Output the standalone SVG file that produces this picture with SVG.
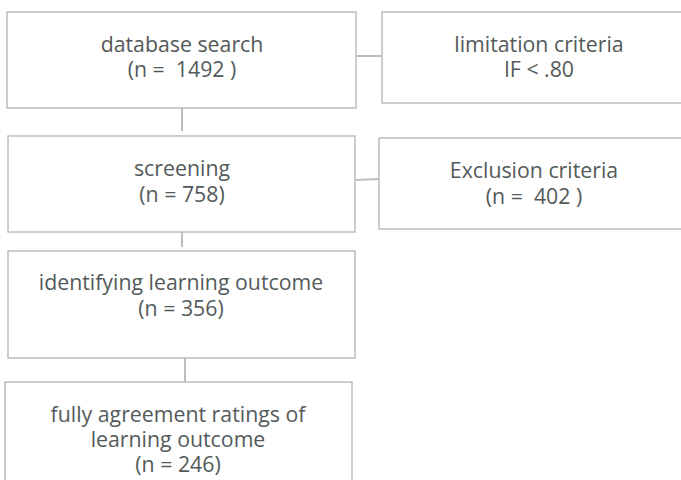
<svg xmlns="http://www.w3.org/2000/svg" width="681" height="480" viewBox="0 0 681 480">
<style>
.box{fill:#fff;stroke:#bdbdbd;stroke-width:1.5}
.ln{stroke:#bdbdbd;stroke-width:2;fill:none}
text{font-family:"Open Sans","Liberation Sans",sans-serif;font-size:21.3px;fill:#535a5a;text-anchor:middle;white-space:pre}
</style>
<rect width="681" height="480" fill="#fff"/>
<g id="connectors">
<line class="ln" x1="356" y1="56" x2="382" y2="56"/>
<line class="ln" x1="182" y1="104" x2="182" y2="131"/>
<line class="ln" x1="355" y1="180" x2="379" y2="179"/>
<line class="ln" x1="182" y1="228" x2="182" y2="247"/>
<line class="ln" x1="185" y1="358" x2="185" y2="384"/>
</g>
<g id="database-search">
<rect class="box" x="7" y="12" width="349" height="96"/>
<text x="182" y="52">database search<tspan x="182" y="77">(n =  1492 )</tspan></text>
</g>
<g id="limitation-criteria">
<rect class="box" x="382" y="12" width="302" height="91"/>
<text x="539" y="52">limitation criteria<tspan x="539" y="77">IF &lt; .80</tspan></text>
</g>
<g id="screening">
<rect class="box" x="8" y="136" width="347" height="96"/>
<text x="182" y="176">screening<tspan x="182" y="202">(n = 758)</tspan></text>
</g>
<g id="exclusion-criteria">
<rect class="box" x="379" y="138" width="305" height="91"/>
<text x="534" y="178">Exclusion criteria<tspan x="534" y="204">(n =  402 )</tspan></text>
</g>
<g id="identifying">
<rect class="box" x="8" y="251" width="347" height="107"/>
<text x="181" y="290">identifying learning outcome<tspan x="181" y="316">(n = 356)</tspan></text>
</g>
<g id="fully-agreement">
<rect class="box" x="5" y="382" width="347" height="110"/>
<text x="178" y="422">fully agreement ratings of<tspan x="178" y="447">learning outcome</tspan><tspan x="178" y="472">(n = 246)</tspan></text>
</g>
</svg>
